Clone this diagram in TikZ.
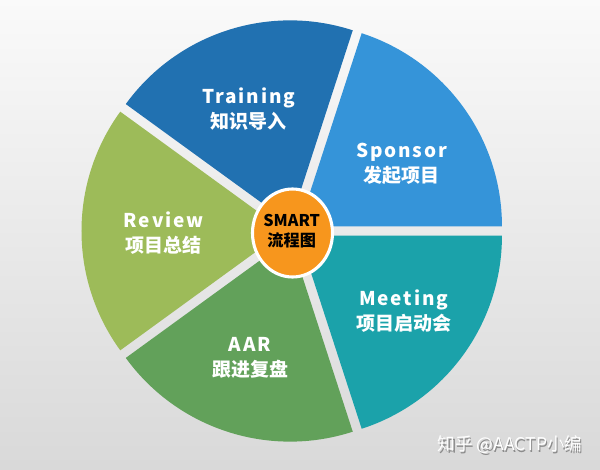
\documentclass[tikz,border=0pt]{standalone}
\usepackage{fontspec}
\setmainfont{Noto Sans CJK SC}
\newfontfamily\labelfont[LetterSpace=10]{Noto Sans CJK SC}
\definecolor{trainblue}{RGB}{33,113,177}
\definecolor{sponsorblue}{RGB}{53,148,217}
\definecolor{meetteal}{RGB}{27,162,170}
\definecolor{aargreen}{RGB}{98,161,90}
\definecolor{reviewgreen}{RGB}{157,187,89}
\definecolor{smartorange}{RGB}{247,150,29}
\tikzset{
  seclabel/.style={align=center, text=white, font=\fontsize{13.5}{17.8}\selectfont\bfseries},
}
\begin{document}
\begin{tikzpicture}
% Set the pie dimensions
\def\pieradius{5.075} % outer radius of each piece
\def\pieshift{0.2} % how far each piece is pulled out

% Background
\shade[top color=white!98!black, bottom color=white!85!black] (-7.3125,-5.975) rectangle (7.6875,5.775);

% Draw the five pieces
\fill[sponsorblue, shift={(36:\pieshift)}] (0,0) -- (0:\pieradius) arc[start angle=0, end angle=72, radius=\pieradius] -- cycle;
\fill[trainblue, shift={(108:\pieshift)}] (0,0) -- (72:\pieradius) arc[start angle=72, end angle=144, radius=\pieradius] -- cycle;
\fill[reviewgreen, shift={(180:\pieshift)}] (0,0) -- (144:\pieradius) arc[start angle=144, end angle=216, radius=\pieradius] -- cycle;
\fill[aargreen, shift={(252:\pieshift)}] (0,0) -- (216:\pieradius) arc[start angle=216, end angle=288, radius=\pieradius] -- cycle;
\fill[meetteal, shift={(324:\pieshift)}] (0,0) -- (288:\pieradius) arc[start angle=288, end angle=360, radius=\pieradius] -- cycle;

% Insert the labels
\node[seclabel] (training) at (-1.09, 3.05) {{\labelfont Training}\\知识导入};
\node[seclabel] (sponsor) at (2.73, 1.69) {{\labelfont Sponsor}\\发起项目};
\node[seclabel] (review) at (-3.22, -0.05) {{\labelfont Review}\\项目总结};
\node[seclabel] (meeting) at (2.78, -2.0) {{\labelfont Meeting}\\项目启动会};
\node[seclabel] (aar) at (-1.06, -3.16) {{\labelfont AAR}\\跟进复盘};

% Centre disc
\draw[white, line width=2.2pt, fill=smartorange] (0,-0.05) ellipse[x radius=1.0, y radius=1.1];
\node[align=center, font=\fontsize{11.5}{14.5}\selectfont\bfseries] (smart) at (-0.02, 0.0) {SMART\\流程图};

% Watermark
\node[text=black!45, font=\fontsize{12.5}{15}\selectfont] (markshadow) at (5.47, -5.38) {知乎 @AACTP小编};
\node[text=white, font=\fontsize{12.5}{15}\selectfont] (mark) at (5.44, -5.35) {知乎 @AACTP小编};
\end{tikzpicture}
\end{document}
